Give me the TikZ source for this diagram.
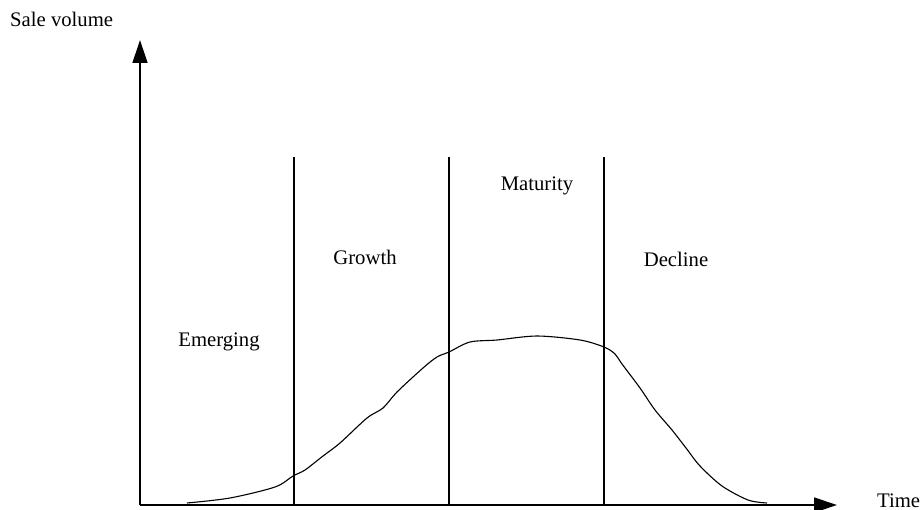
\documentclass[tikz,border=0pt]{standalone}
\usepackage{fontspec}
\setmainfont{Liberation Serif}
\usetikzlibrary{arrows.meta}
\begin{document}
\begin{tikzpicture}[x=1pt,y=-1pt,
  lbl/.style={inner sep=0pt,anchor=base,font=\fontsize{20.7}{24}\selectfont},
  axis/.style={line width=1.3pt,-{Triangle[length=23pt,width=15pt]}},
  divider/.style={line width=1.1pt},
  curve/.style={line width=1.1pt}]
\useasboundingbox (0,0) rectangle (923,510);
\coordinate (O) at (140,505);
\coordinate (Ytip) at (140,40);
\coordinate (Xtip) at (837,505);
\draw[axis] (O) -- (Ytip);
\draw[axis] (O) -- (Xtip);
\coordinate (d1t) at (294,157); \coordinate (d1b) at (294,505);
\coordinate (d2t) at (449,157); \coordinate (d2b) at (449,505);
\coordinate (d3t) at (604,157); \coordinate (d3b) at (604,505);
\draw[divider] (d1t) -- (d1b);
\draw[divider] (d2t) -- (d2b);
\draw[divider] (d3t) -- (d3b);
\draw[curve] plot[smooth,tension=0.5] coordinates {
 (187,503) (230,498) (275,487) (293,476) (305,470) (323,456) (340,443)
 (367,418) (383,408) (397,392) (423,368) (437,357) (449,352) (470,342)
 (497,340) (537,336) (580,340) (604,347) (615,354) (622,364) (640,388)
 (655,410) (672,430) (686,448) (700,466) (722,486) (748,500) (767,503)};
\node[lbl,anchor=base west] (ylab) at (10,27) {Sale volume};
\node[lbl,anchor=base west] (xlab) at (877,507) {Time};
\node[lbl] (emerging) at (219,346) {Emerging};
\node[lbl] (growth) at (365,265) {Growth};
\node[lbl] (maturity) at (537,191) {Maturity};
\node[lbl] (decline) at (676,267) {Decline};
\end{tikzpicture}
\end{document}
